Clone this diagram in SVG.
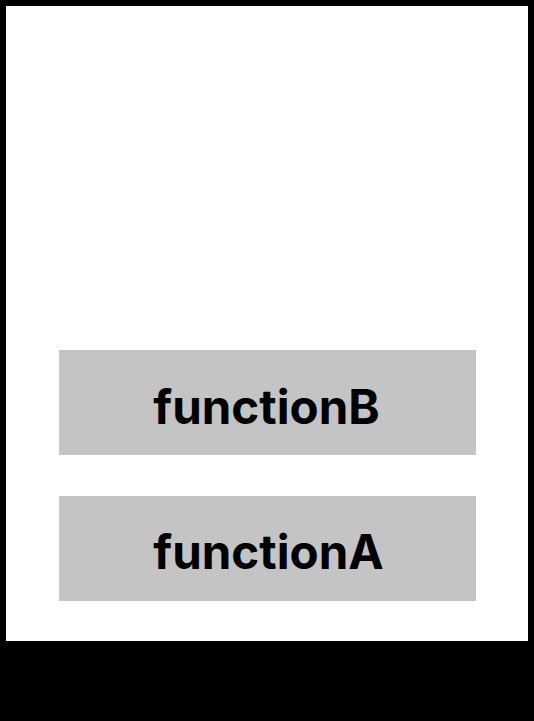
<svg xmlns="http://www.w3.org/2000/svg" width="534" height="721" viewBox="0 0 534 721">
  <style>
    .frame { fill: #000000; }
    .stage { fill: #ffffff; }
    .box { fill: #c4c4c4; }
    .label { font-family: Inter, "Liberation Sans", sans-serif; font-weight: 700; font-size: 47.5px; fill: #000000; text-anchor: middle; }
  </style>
  <rect class="frame" x="0" y="0" width="534" height="721"/>
  <rect class="stage" x="6" y="6" width="522" height="635"/>
  <g id="functionB">
    <rect class="box" x="59" y="350" width="417" height="105"/>
    <text class="label" x="266.5" y="424">functionB</text>
  </g>
  <g id="functionA">
    <rect class="box" x="59" y="496" width="417" height="105"/>
    <text class="label" x="268.5" y="569">functionA</text>
  </g>
  <g id="connectors"/>
</svg>
